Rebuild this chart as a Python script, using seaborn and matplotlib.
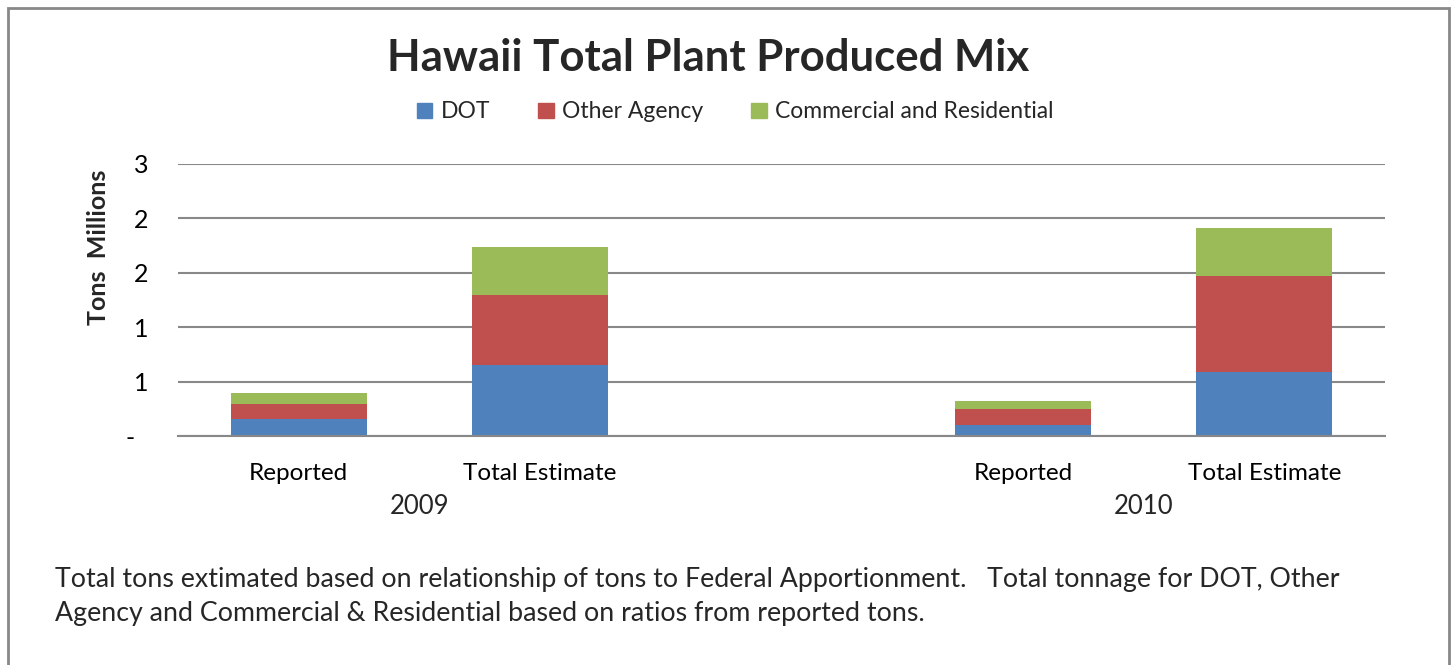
import matplotlib
matplotlib.use("Agg")
import matplotlib.pyplot as plt
import seaborn as sns
import pandas as pd
import numpy as np
from matplotlib.patches import Rectangle
from matplotlib.ticker import FixedLocator, FixedFormatter

sns.set_theme(style="white")
plt.rcParams['font.family'] = ['Lato', 'DejaVu Sans']

# ---- data (millions of tons) ----
categories = ["2009 Reported", "2009 Total Estimate", "gap", "2010 Reported", "2010 Total Estimate"]
bar_cats = ["2009 Reported", "2009 Total Estimate", "2010 Reported", "2010 Total Estimate"]
dot = [0.156, 0.653, 0.101, 0.588]
other_agency = [0.138, 0.643, 0.147, 0.883]
commercial = [0.101, 0.441, 0.074, 0.441]
tick_labels = ["Reported", "Total Estimate", "", "Reported", "Total Estimate"]
years = ["2009", "2010"]
year_centers = [0.5, 3.5]
y_ticks = [0, 0.5, 1.0, 1.5, 2.0, 2.5]
y_tick_labels = ["-  ", "1", "1", "2", "2", "3"]
series_names = ["DOT", "Other Agency", "Commercial and Residential"]
colors = ["#4F81BD", "#C0504D", "#9BBB59"]

df = pd.DataFrame({"cat": bar_cats, "DOT": dot, "Other": other_agency, "Comm": commercial})
df["c1"] = df["DOT"]
df["c2"] = df["DOT"] + df["Other"]
df["c3"] = df["c2"] + df["Comm"]

W, H = 1453, 665
fig = plt.figure(figsize=(W / 100, H / 100), dpi=100)
fig.patch.set_facecolor("white")

ax = fig.add_axes([178 / W, (H - 436) / H, (1385 - 178) / W, (436 - 164) / H])

for col, c in zip(["c3", "c2", "c1"], [colors[2], colors[1], colors[0]]):
    sns.barplot(data=df, x="cat", y=col, order=categories, color=c, width=0.565,
                linewidth=0, saturation=1, ax=ax, errorbar=None)

ax.set_xlim(-0.5, 4.5)
ax.set_ylim(0, 2.5)
ax.yaxis.set_major_locator(FixedLocator(y_ticks))
ax.yaxis.set_major_formatter(FixedFormatter(y_tick_labels))
ax.grid(axis="y", color="#888888", linewidth=1.5, zorder=0)
ax.set_axisbelow(True)
for s in ["top", "right", "left"]:
    ax.spines[s].set_visible(False)
ax.spines["bottom"].set_color("#888888")
ax.spines["bottom"].set_linewidth(1.5)
ax.tick_params(axis="y", length=0, pad=21.5, labelsize=18, labelcolor="black")
ax.tick_params(axis="x", length=0, pad=19.8, labelsize=17.5, labelcolor="black")
ax.set_xticks(range(len(categories)))
ax.set_xticklabels(tick_labels)
ax.set_xlabel("")
ax.set_ylabel("Tons  Millions", fontsize=18, fontweight="bold")
ax.yaxis.set_label_coords((110 - 178) / (1385 - 178), (436 - 247) / (436 - 164))

# year group labels
for xc, yr in zip(year_centers, years):
    fig.text((178 + (xc + 0.5) * (1385 - 178) / 5) / W, 1 - 507 / H, yr,
             ha="center", va="center", fontsize=18.5)

# title
fig.text(708 / W, 1 - 58 / H, "Hawaii Total Plant Produced Mix", ha="center", va="center",
         fontsize=31.5, fontweight="bold")

# legend
handles = [Rectangle((0, 0), 1, 1, color=c) for c in colors]
fig.legend(handles, series_names, loc="center", bbox_to_anchor=(735 / W, 1 - 112 / H),
           ncol=3, frameon=False, fontsize=16.5, handlelength=0.68, handleheight=0.68,
           handletextpad=0.36, columnspacing=2.1)

# footnote
fig.text(55 / W, 1 - 579 / H,
         "Total tons extimated based on relationship of tons to Federal Apportionment.   Total tonnage for DOT, Other",
         ha="left", va="center", fontsize=19.3)
fig.text(55 / W, 1 - 614 / H,
         "Agency and Commercial & Residential based on ratios from reported tons.",
         ha="left", va="center", fontsize=19.3)

# border
fig.patches.append(Rectangle((8 / W, -0.01), (1449 - 8) / W, (H - 8) / H + 0.01,
                             transform=fig.transFigure, fill=False,
                             edgecolor="#888888", linewidth=2))

fig.savefig("out.png", dpi=100)
